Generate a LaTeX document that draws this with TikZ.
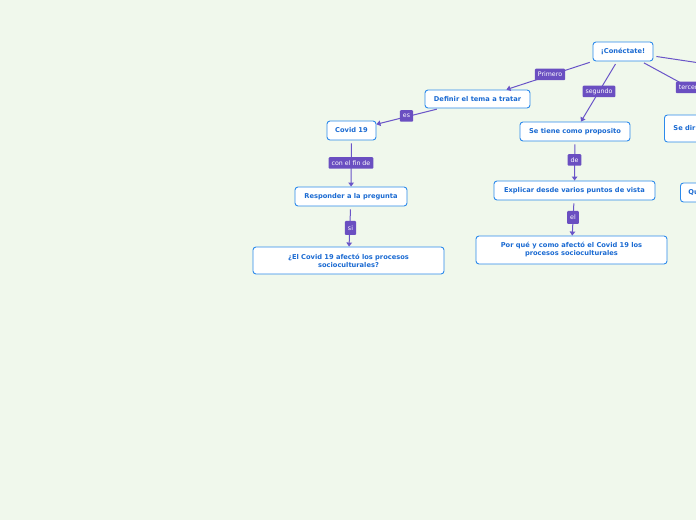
\documentclass[tikz,border=0pt]{standalone}
\usepackage{fontspec}
\usetikzlibrary{arrows.meta}
\newfontfamily\mmfont{DejaVu Sans}
\definecolor{bg}{HTML}{F0F8EC}
\definecolor{nodeblue}{HTML}{2C8AEB}
\definecolor{textblue}{HTML}{1A6AD2}
\definecolor{lab}{HTML}{6A4FC1}
\definecolor{linec}{HTML}{6A55C8}
\tikzset{
 topic/.style={draw=nodeblue, fill=white, rounded corners=3bp, line width=0.9bp,
   font=\mmfont\bfseries\fontsize{6.7}{8}\selectfont, text=textblue, inner sep=1bp, align=center},
 lbl/.style={fill=lab, rounded corners=1bp, text=white, font=\mmfont\fontsize{6.3}{7}\selectfont,
   inner xsep=3bp, inner ysep=0bp, minimum height=11.5bp},
 conn/.style={draw=linec, line width=1bp, shorten <=3bp},
 tip/.style={-{Triangle[length=4bp,width=5.5bp]}}
}
\begin{document}
\begin{tikzpicture}[x=1bp,y=-1bp]
\path[fill=bg] (0,0) rectangle (696,520);
\useasboundingbox (0,0) rectangle (696,520);
\clip (0,0) rectangle (696,520);
% nodes
\node[topic, minimum width=60bp, minimum height=19bp] (root) at (623,51.5) {¡Conéctate!};
\node[topic, minimum width=105bp, minimum height=18bp] (def) at (477.5,99) {Definir el tema a tratar};
\node[topic, minimum width=110bp, minimum height=19bp] (prop) at (575,131.5) {Se tiene como proposito};
\node[topic, minimum width=49bp, minimum height=19bp] (covid) at (351.5,130.5) {Covid 19};
\node[topic, minimum width=112bp, minimum height=19bp] (resp) at (351,196.5) {Responder a la pregunta};
\node[topic, minimum width=191bp, minimum height=27bp] (preg) at (348.5,260.5) {¿El Covid 19 afectó los procesos\\socioculturales?};
\node[topic, minimum width=161bp, minimum height=19bp] (expl) at (574.5,190.5) {Explicar desde varios puntos de vista};
\node[topic, minimum width=191bp, minimum height=28bp] (porq) at (571.5,250) {Por qué y como afectó el Covid 19 los\\procesos socioculturales};
\node[topic, anchor=west, minimum height=27bp, text width=70bp, align=left, inner xsep=9bp] (sedir) at (664,128.5) {Se dir\\[2bp]};
\node[topic, anchor=west, minimum height=19bp, text width=40bp, align=left, inner xsep=8bp] (qu) at (680,192.5) {Qu};
\coordinate (far1) at (800,78);
\coordinate (far2) at (760,126);
% connectors
\draw[conn,tip] (root) -- (def);
\draw[conn,tip] (root) -- (prop);
\draw[conn] (root) -- (far2);
\draw[conn] (root) -- (far1);
\draw[conn,tip] (def) -- (covid);
\draw[conn,tip] (covid) -- (resp);
\draw[conn,tip] (resp) -- (preg);
\draw[conn,tip] (prop) -- (expl);
\draw[conn,tip] (expl) -- (porq);
% labels
\node[lbl] (l1) at (550,74.5) {Primero};
\node[lbl] (l2) at (599,91.5) {segundo};
\node[lbl] (l3) at (690,87.5) {tercero};
\node[lbl] (l4) at (406.5,116) {es};
\node[lbl] (l5) at (351,163) {con el fin de};
\node[lbl, minimum height=14bp] (l6) at (350.5,228) {si};
\node[lbl] (l7) at (574.5,160) {de};
\node[lbl, minimum height=13bp] (l8) at (573,217.5) {el};
\end{tikzpicture}
\end{document}
